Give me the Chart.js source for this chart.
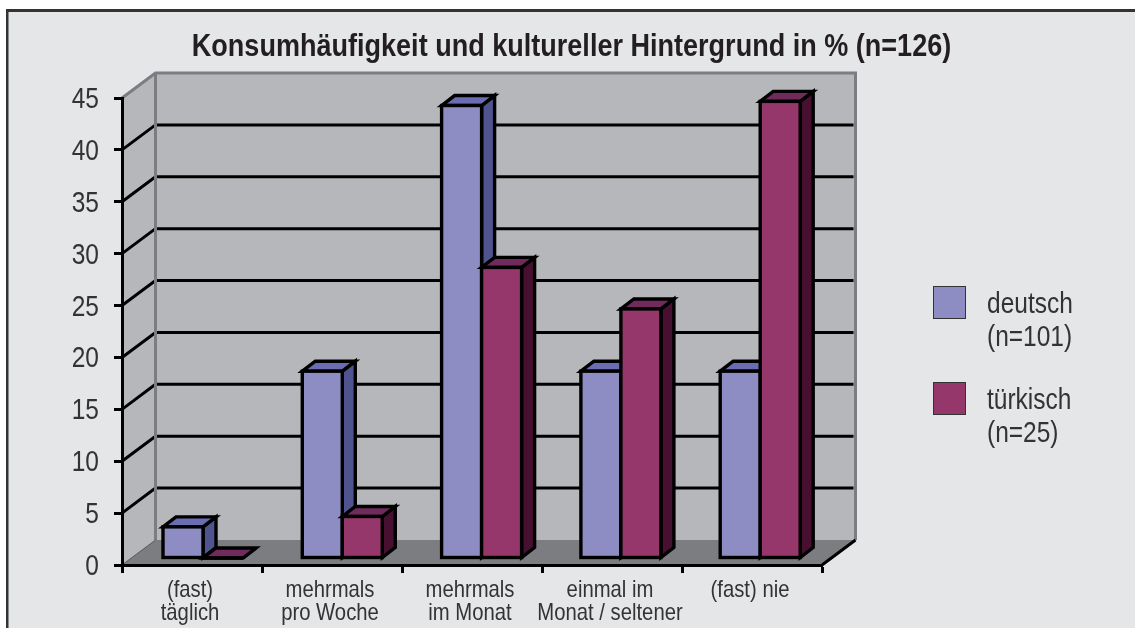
<!DOCTYPE html>
<html lang="de"><head><meta charset="utf-8">
<style>html,body{margin:0;padding:0;background:#fff}canvas{display:block}</style>
<script src="https://cdn.jsdelivr.net/npm/chart.js@4"></script></head>
<body><canvas id="c" width="1135" height="628"></canvas>
<script>
const categories = [['(fast)','täglich'],['mehrmals','pro Woche'],['mehrmals','im Monat'],['einmal im','Monat / seltener'],'(fast) nie'];
const deutsch = [3, 18, 43.6, 18, 18];
const tuerkisch = [0, 4, 28, 24, 44];
const legendDeutsch = ['deutsch','(n=101)'];
const legendTuerkisch = ['türkisch','(n=25)'];
const titleText = 'Konsumhäufigkeit und kultureller Hintergrund in % (n=126)';
const FONT = '"Liberation Sans",sans-serif';
const TEXT = '#333335';
const CONDENSE = 0.845;
const FACE = {deutsch:{front:'#8d8dc4',side:'#50548e',top:'#6b6db2'},tuerkisch:{front:'#95376b',side:'#481030',top:'#712a5c'}};
const depth = {x:33.5,y:25};      // wall depth
const barShift = {x:11,drift:0.7,y:7};    // bars stand inside the floor
const barDepth = {x:13,y:10};
const EDGE = 3.4;

function poly(ctx,pts,fill,stroke,lw){
  ctx.beginPath();pts.forEach((p,i)=>i?ctx.lineTo(p[0],p[1]):ctx.moveTo(p[0],p[1]));ctx.closePath();
  if(fill){ctx.fillStyle=fill;ctx.fill();}
  if(stroke){ctx.strokeStyle=stroke;ctx.lineWidth=lw;ctx.lineJoin='miter';ctx.stroke();}
}
function drawBars(chart,index){
  const {ctx}=chart,c=index===0?FACE.deutsch:FACE.tuerkisch,meta=chart.getDatasetMeta(index);
  meta.data.forEach((b,i)=>{
    const sx=barShift.x-i*barShift.drift;
    const l=b.x-b.width/2+sx,r=l+b.width,t=b.y-barShift.y,bt=b.base-barShift.y,dx=barDepth.x,dy=barDepth.y;
    ctx.save();
    poly(ctx,[[r,t],[r+dx,t-dy],[r+dx,bt-dy],[r,bt]],c.side,'#000',EDGE);
    poly(ctx,[[l,t],[l+dx,t-dy],[r+dx,t-dy],[r,t]],c.top,'#000',EDGE);
    ctx.translate(sx,-barShift.y);
    b.draw(ctx);
    ctx.strokeStyle='#000';ctx.lineWidth=EDGE;ctx.lineJoin='miter';
    ctx.strokeRect(b.x-b.width/2,b.y,b.width,b.base-b.y);
    ctx.restore();
  });
}
const scene = {
  id:'scene',
  beforeInit(chart){
    // condensed lettering: every text is narrowed around its own anchor
    const ctx=chart.ctx,orig=ctx.fillText.bind(ctx);
    ctx.fillText=function(t,x,y){ctx.save();ctx.translate(x,y);ctx.scale(CONDENSE,1);orig(t,0,0);ctx.restore();};
  },
  afterLayout(chart){chart.titleBlock.left=8;chart.titleBlock.right=1135;},
  beforeDraw(chart){
    const {ctx,chartArea:a,scales:{y}}=chart;
    ctx.save();
    ctx.fillStyle='#fff';ctx.fillRect(0,0,1135,628);
    ctx.fillStyle='#e5e6e8';ctx.fillRect(7,10,1128,618);
    ctx.fillStyle='#333335';ctx.fillRect(6,9,1129,3);ctx.fillRect(6,9,2.5,619);
    const L=a.left,R=a.right,T=a.top,B=a.bottom,dx=depth.x,dy=depth.y;
    poly(ctx,[[L,T],[L+dx,T-dy],[L+dx,B-dy],[L,B]],'#b6b7ba');
    poly(ctx,[[L+dx,T-dy],[R+dx,T-dy],[R+dx,B-dy],[L+dx,B-dy]],'#b6b7ba');
    poly(ctx,[[L,B],[R,B],[R+dx,B-dy],[L+dx,B-dy]],'#7c7d80');
    ctx.lineCap='butt';
    y.ticks.forEach(t=>{
      const py=y.getPixelForValue(t.value);
      if(t.value===0||t.value===y.max)return;
      ctx.strokeStyle='#000';ctx.lineWidth=3;
      ctx.beginPath();ctx.moveTo(L,py);ctx.lineTo(L+dx,py-dy);ctx.lineTo(R+dx-2,py-dy);ctx.stroke();
    });
    ctx.strokeStyle='#7c7d80';ctx.lineWidth=3;
    ctx.beginPath();ctx.moveTo(L,T);ctx.lineTo(L+dx,T-dy);ctx.lineTo(R+dx,T-dy);ctx.lineTo(R+dx,B-dy);ctx.moveTo(L+dx,T-dy);ctx.lineTo(L+dx,B-dy);ctx.stroke();
    ctx.strokeStyle='#000';
    ctx.beginPath();ctx.moveTo(R,B);ctx.lineTo(R+dx,B-dy);ctx.stroke();
    ctx.strokeStyle='#55565a';ctx.lineWidth=1;
    ctx.beginPath();ctx.moveTo(L,B);ctx.lineTo(L+dx,B-dy);ctx.stroke();
    // legend
    [[legendDeutsch,FACE.deutsch.front,286,313],[legendTuerkisch,FACE.tuerkisch.front,382,409]].forEach(([lines,col,top,base])=>{
      ctx.fillStyle=col;ctx.fillRect(933.5,top+.5,32,32);
      ctx.strokeStyle='#333';ctx.lineWidth=1;ctx.strokeRect(933.5,top+.5,32,32);
      ctx.fillStyle=TEXT;ctx.font='29px '+FONT;ctx.textAlign='left';ctx.textBaseline='alphabetic';
      lines.forEach((s,i)=>ctx.fillText(s,987,base+i*33));
    });
    ctx.restore();
  },
  beforeDatasetDraw(chart,args){
    // the right-hand bars must lie over the left-hand bars' side faces
    if(args.index===0){drawBars(chart,0);drawBars(chart,1);}
    return false;
  }
};
new Chart(document.getElementById('c'),{
  type:'bar',
  data:{labels:categories,datasets:[
    {label:'deutsch (n=101)',data:deutsch,backgroundColor:FACE.deutsch.front,borderWidth:0,clip:false},
    {label:'türkisch (n=25)',data:tuerkisch,backgroundColor:FACE.tuerkisch.front,borderWidth:0,clip:false}
  ]},
  options:{
    responsive:false,animation:false,
    layout:{padding:{left:0,right:313,top:0,bottom:0},autoPadding:false},
    datasets:{bar:{categoryPercentage:80/140,barPercentage:1}},
    plugins:{
      legend:{display:false},tooltip:{enabled:false},
      title:{display:true,text:titleText,color:'#231f20',font:{family:FONT,size:32,weight:'bold',lineHeight:1.2},padding:{top:28,bottom:31.6}}
    },
    scales:{
      x:{
        afterFit(s){s.height=63;},
        grid:{drawOnChartArea:false,drawTicks:true,tickLength:8,tickWidth:3,tickColor:'#000'},
        border:{display:true,color:'#000',width:3},
        ticks:{color:TEXT,font:{family:FONT,size:24,lineHeight:0.96},padding:6,labelOffset:-2,maxRotation:0,minRotation:0,autoSkip:false}
      },
      y:{
        min:0,max:45,
        afterFit(s){s.width=122;},
        grid:{drawOnChartArea:false,drawTicks:true,tickLength:8,tickWidth:3,tickColor:'#000'},
        border:{display:true,color:'#000',width:3},
        ticks:{stepSize:5,color:TEXT,font:{family:FONT,size:29},padding:15,labelOffset:2}
      }
    }
  },
  plugins:[scene]
});
</script></body></html>
